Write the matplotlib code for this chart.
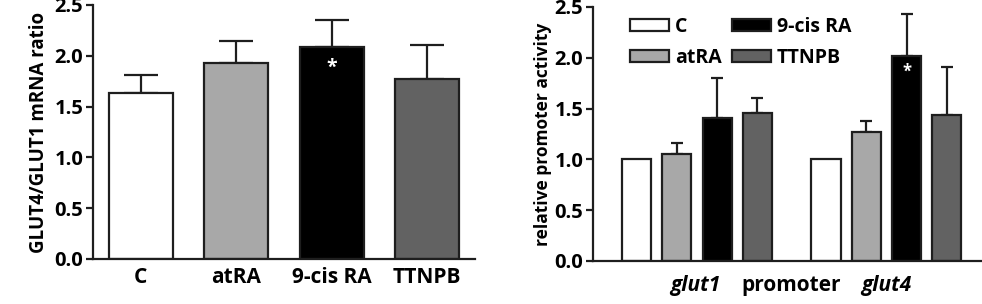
import matplotlib
matplotlib.use("Agg")
import matplotlib.pyplot as plt
import numpy as np
from matplotlib.patches import Patch

plt.rcParams['font.family'] = ['Open Sans', 'DejaVu Sans']
plt.rcParams['font.weight'] = 'bold'

# Left panel data
left_categories = ["C", "atRA", "9-cis RA", "TTNPB"]
left_values = [1.63, 1.93, 2.09, 1.77]
left_errors = [0.18, 0.22, 0.26, 0.34]

# Right panel data
treatments = ["C", "atRA", "9-cis RA", "TTNPB"]
groups = ["glut1", "glut4"]
glut1_values = [1.00, 1.05, 1.41, 1.46]
glut1_errors = [0.0, 0.11, 0.39, 0.14]
glut4_values = [1.00, 1.27, 2.02, 1.44]
glut4_errors = [0.0, 0.11, 0.41, 0.47]

colors = ["#ffffff", "#a8a8a8", "#000000", "#626262"]
edge = "#1e1e1e"
yticks = [0.0, 0.5, 1.0, 1.5, 2.0, 2.5]

fig = plt.figure(figsize=(9.82, 3.04), dpi=100)

def style(ax):
    for s in ["top", "right"]:
        ax.spines[s].set_visible(False)
    for s in ["left", "bottom"]:
        ax.spines[s].set_linewidth(1.6)
        ax.spines[s].set_color(edge)
    ax.set_ylim(0, 2.5)
    ax.set_yticks(yticks)
    ax.set_yticklabels([f"{t:.1f}" for t in yticks], fontsize=14.5, fontweight='bold')
    ax.tick_params(axis='y', length=5, width=1.6, color=edge, pad=2)

# Left axes
axL = fig.add_axes([93/982, 45/304, (475-93)/982, 254/304])
xL = np.arange(len(left_categories))
axL.bar(xL, left_values, width=0.67, color=colors, edgecolor=edge, linewidth=1.6, zorder=2)
axL.errorbar(xL, left_values, yerr=[np.zeros(4), left_errors], fmt='none',
             ecolor=edge, elinewidth=1.6, capsize=12.5, capthick=1.6, zorder=1)
axL.set_xlim(-0.5, 3.5)
style(axL)
axL.set_xticks(xL)
axL.set_xticklabels(left_categories, fontsize=15, fontweight='bold')
axL.tick_params(axis='x', length=0, pad=6)
axL.set_ylabel("GLUT4/GLUT1 mRNA ratio", fontsize=13.5, fontweight='bold', labelpad=4)
axL.text(xL[2], 1.88, "*", color="white", ha='center', va='center', fontsize=14, fontweight='bold', zorder=3)

# Right axes
axR = fig.add_axes([593/982, 43/304, (982-593)/982, 254/304])
offset = 4.7
w = 0.72
for gi, (vals, errs) in enumerate([(glut1_values, glut1_errors), (glut4_values, glut4_errors)]):
    xs = np.arange(4) + gi * offset
    axR.bar(xs, vals, width=w, color=colors, edgecolor=edge, linewidth=1.6, zorder=2)
    mask = np.array(errs) > 0
    axR.errorbar(xs[mask], np.array(vals)[mask], yerr=[np.zeros(mask.sum()), np.array(errs)[mask]],
                 fmt='none', ecolor=edge, elinewidth=1.6, capsize=4.5, capthick=1.6, zorder=1)
axR.set_xlim(-1.08, 8.57)
style(axR)
axR.set_xticks([])
axR.tick_params(axis='x', length=0)
axR.set_ylabel("relative promoter activity", fontsize=12.5, fontweight='bold', labelpad=2)
axR.text(2 + offset, 1.86, "*", color="white", ha='center', va='center', fontsize=12, fontweight='bold', zorder=3)

# group labels
ylab = -0.24
axR.text(1.45, ylab, "glut1", style='italic', fontweight='bold', fontsize=15, ha='center', va='center',
         clip_on=False)
axR.text(3.83, ylab, "promoter", fontweight='bold', fontsize=15, ha='center', va='center',
         clip_on=False)
axR.text(1.5 + offset, ylab, "glut4", style='italic', fontweight='bold', fontsize=15, ha='center', va='center',
         clip_on=False)

handles = [Patch(facecolor=c, edgecolor=edge, linewidth=1.6, label=t) for c, t in zip(colors, treatments)]
axR.legend(handles=handles, ncol=2, loc='upper left', bbox_to_anchor=(0.05, 1.03), frameon=False,
           prop={'weight': 'bold', 'size': 14}, handlelength=2.0, handleheight=0.55,
           handletextpad=0.3, columnspacing=0.55, labelspacing=0.55)

fig.savefig("out.png", dpi=100)
